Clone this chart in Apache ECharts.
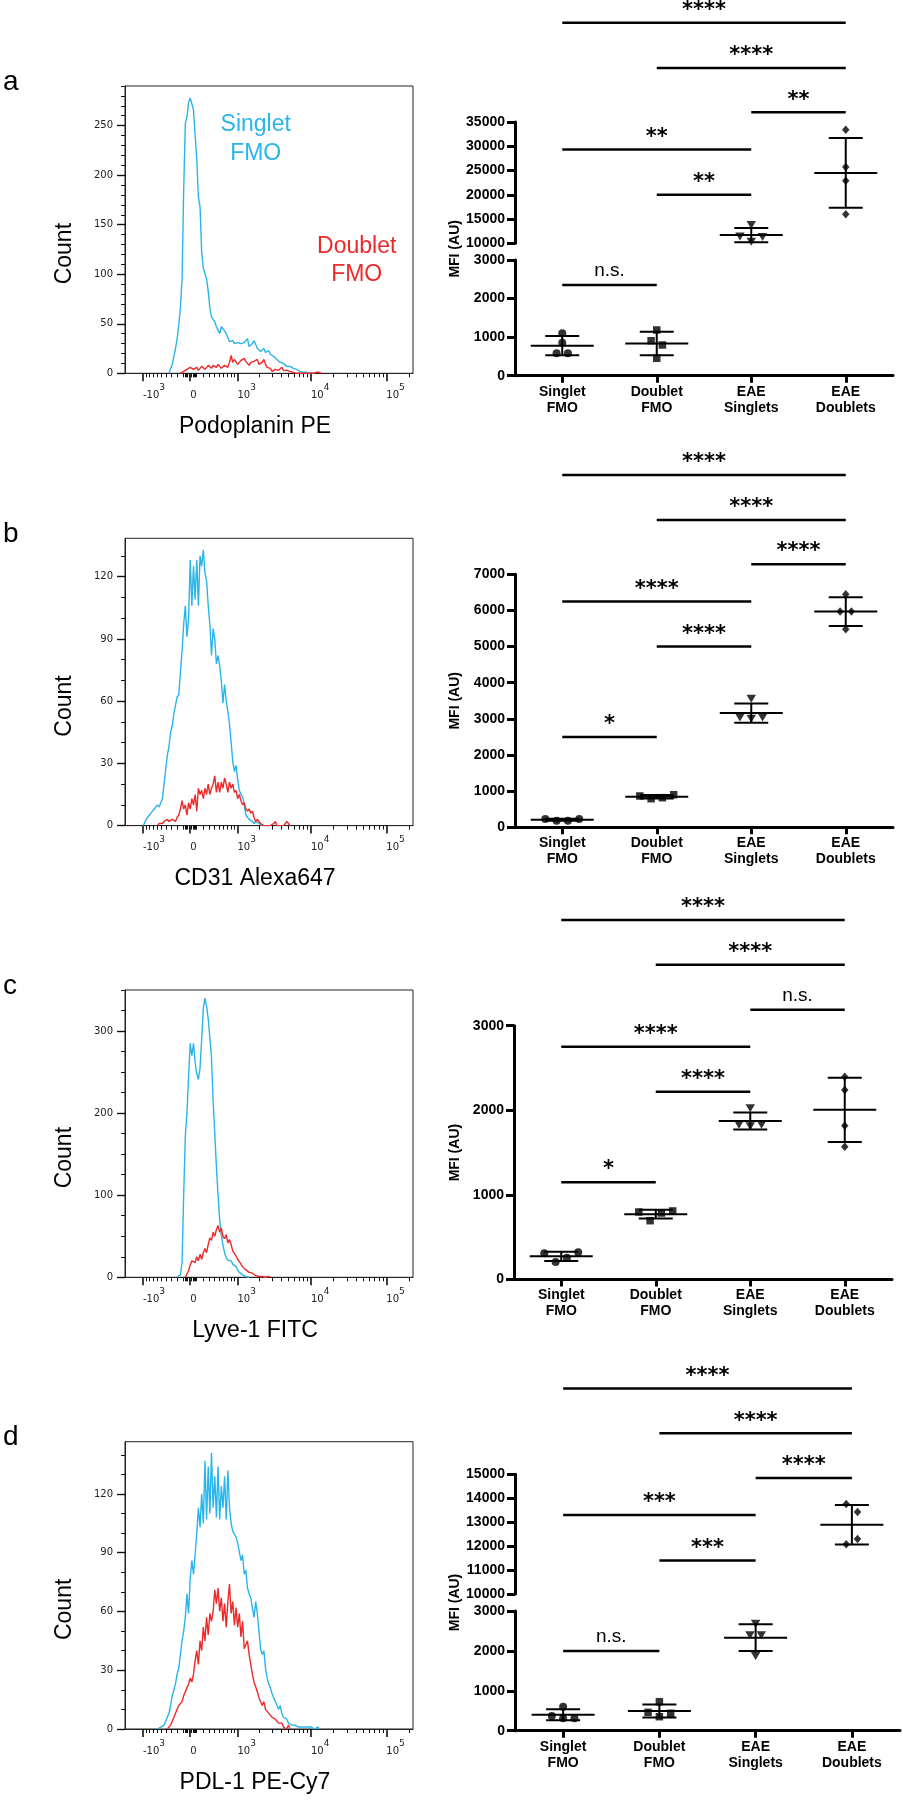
<!DOCTYPE html>
<html><head><meta charset="utf-8">
<script src="https://cdn.jsdelivr.net/npm/echarts@6/dist/echarts.min.js"></script>
<style>html,body{margin:0;padding:0;background:#fff}#main{width:903px;height:1800px}</style>
</head><body><div id="main"></div>
<script>
// ================= DATA =================
const categories = ['Singlet\nFMO', 'Doublet\nFMO', 'EAE\nSinglets', 'EAE\nDoublets'];
const panelLetters = ['a', 'b', 'c', 'd'];
const markerTitles = ['Podoplanin PE', 'CD31 Alexa647', 'Lyve-1 FITC', 'PDL-1 PE-Cy7'];
const histLegend = ['Singlet\nFMO', 'Doublet\nFMO'];

// histogram x axis (biexponential display) tick values and labels
const xMajorVals = [-1000, 0, 1000, 10000, 100000];
const xTickBase = ['-10', '0', '10', '10', '10'];
const xTickExp = ['3', '', '3', '4', '5'];

// histogram counts, one value per display bin (bin width 0.05 display units), first bin index given
const aSingletStart = -13;
const aSingletHist = [0,2,9,17,25,35,49,66,95,185,252,259,273,278,276,266,240,216,178,168,122,106,101,95,83,66,57,58,52,47,46,40,47,47,43,40,36,32,33,33,30,31,31,30,30,30,31,32,35,27,26,30,33,35,25,24,22,23,25,21,23,23,19,21,17,19,14,16,11,13,10,11,7,9,7,7,5,6,4,4,2,3,1,2,1,1,0,1,0];
const aDoubletStart = -6;
const aDoubletHist = [0,1,2,3,4,3,6,5,4,6,6,3,5,7,7,4,6,8,6,5,8,7,6,9,7,5,6,8,8,6,11,18,11,14,12,9,9,13,11,15,12,10,8,11,9,12,11,14,9,10,11,14,9,6,4,5,2,4,4,6,3,4,6,3,2,3,1,2,2,1,1,0,0,0,0,0,0,0,0,0,0,0,1,1,1,1,0];
const bSingletStart = -29;
const bSingletHist = [0,1,3,4,4,6,6,8,8,10,9,11,13,20,27,34,38,45,48,54,58,62,63,74,84,97,106,91,100,128,106,125,109,128,106,130,125,133,122,118,106,97,82,95,90,78,82,77,70,59,68,60,55,49,40,31,26,29,22,17,15,14,10,5,4,3,3,2,1,2,2,1,1,0];
const bDoubletStart = -20;
const bDoubletHist = [0,1,1,1,2,2,3,2,2,3, 3,2,4,5,8,12,8,10,5,11, 8,13,10,15,7,18,15,17,13,18, 15,20,15,18,20,24,16,21,16,21, 18,23,20,16,21,18,20,16,17,13, 15,12,10,11,8,7,8,6,7,4, 2,3,2,1,1,0,0,0,0,0, 0,1,2,0,0,0,0,0,0,2, 1,0];
const cSingletStart = -8;
const cSingletHist = [0,0,3,18,100,172,200,245,285,270,285,262,248,241,255,290,328,340,330,315,292,268,215,175,135,100,70,52,39,30,24,21,21,20,16,15,13,9,6,5,3,2,1,1,0];
const cDoubletStart = -3;
const cDoubletHist = [0,2,8,15,20,22,18,25,20,28,22,30,35,30,40,48,45,55,50,58,63,55,60,50,47,52,42,46,40,32,33,26,22,19,16,13,11,9,8,6,5,5,3,2,3,1,2,1,1,0,0,1,0];
const dSingletStart = -20;
const dSingletHist = [0,1,1,2,2,4,5,8,12,17, 20,23,28,31,38,45,50,57,69,59, 77,86,79,89,100,113,103,120,105,137, 107,134,110,141,113,129,108,134,107,124, 113,129,107,132,113,105,101,100,98,95, 96,86,89,79,81,72,69,67,62,57, 65,59,50,41,38,40,31,26,23,21, 18,16,14,12,10,12,8,6,5,5, 3,4,2,3,2,2,1,2,1,0, 1,0,1,0,1,0,0,0,1,0];
const dDoubletStart = -14;
const dDoubletHist = [0,0,2,4,5,8,9,12,11,14, 17,17,21,23,26,24,28,35,40,33, 45,40,52,45,57,48,59,55,60,71, 64,72,60,67,55,64,52,65,74,59, 65,53,62,52,59,47,55,41,40,45, 38,33,28,24,23,19,16,17,12,14, 10,11,8,9,6,7,5,5,3,2, 3,1,1,0,2,0];

// MFI (AU) per mouse, per group (left-to-right order as plotted)
const aSingletFMO = [1100, 855, 580, 580];
const aDoubletFMO = [1185, 907, 796, 451];
const aEAESinglets = [13750, 11400, 10300, 11300];
const aEAEDoublets = [33400, 25700, 22900, 16000];
const bSingletFMO = [230, 183, 183, 230];
const bDoubletFMO = [866, 791, 819, 902];
const bEAESinglets = [3560, 3040, 3000, 3040];
const bEAEDoublets = [6450, 5970, 5970, 5480];
const cSingletFMO = [310, 206, 256, 322];
const cDoubletFMO = [798, 695, 786, 810];
const cEAESinglets = [2025, 1830, 1810, 1830];
const cEAEDoublets = [2397, 2240, 1818, 1570];
const dSingletFMO = [601, 368, 311, 311];
const dDoubletFMO = [727, 461, 351, 436];
const dEAESinglets = [2680, 2390, 2390, 1870];
const dEAEDoublets = [13760, 13426, 12077, 12298];

// significance brackets
const sigPairs = [[0, 3], [1, 3], [2, 3], [0, 2], [1, 2], [0, 1]];
const aSigLevels = [55450, 46150, 37000, 29350, 20000, 2350];
const bSigLevels = [9750, 8500, 7280, 6250, 5000, 2500];
const cSigLevels = [4250, 3720, 3190, 2750, 2220, 1150];
const dSigLevels = [18580, 16710, 14850, 13300, 11400, 2000];
const aSigLabels = ['****', '****', '**', '**', '**', 'n.s.'];
const bSigLabels = ['****', '****', '****', '****', '****', '*'];
const cSigLabels = ['****', '****', 'n.s.', '****', '****', '*'];
const dSigLabels = ['****', '****', '****', '***', '***', 'n.s.'];

// ================= STYLE / LAYOUT =================
const BLUE = '#29B5EA', RED = '#EC2A2C';
const BIN = 0.05, BIEX_C = 500;
const tr = v => Math.asinh(v / BIEX_C);
const X_LO = tr(-1800), X_HI = tr(226000);
const xMajorT = xMajorVals.map(tr);
const xMinorT = [];
for (let k = 2; k <= 9; k++) xMinorT.push(tr(-k * 100), tr(k * 100), tr(k * 1000), tr(k * 10000));
for (let k = -100; k <= 100; k += 20) if (k !== 0) xMinorT.push(tr(k));
xMinorT.push(tr(200000));

const option = {animation: false, backgroundColor: '#fff', grid: [], xAxis: [], yAxis: [], series: [], graphic: []};
function addGrid(g) {
  option.grid.push(Object.assign({outerBoundsMode: 'none', containLabel: false}, g));
  return option.grid.length - 1;
}
const noSplit = {show: false};

const hists = [
  {top: 86, yMax: 290, major: 50, minor: 10, blue: aSingletHist, bs: aSingletStart, red: aDoubletHist, rs: aDoubletStart},
  {top: 538.3, yMax: 138.5, major: 30, minor: 10, blue: bSingletHist, bs: bSingletStart, red: bDoubletHist, rs: bDoubletStart},
  {top: 990, yMax: 350, major: 100, minor: 25, blue: cSingletHist, bs: cSingletStart, red: cDoubletHist, rs: cDoubletStart},
  {top: 1441.7, yMax: 146.7, major: 30, minor: 10, blue: dSingletHist, bs: dSingletStart, red: dDoubletHist, rs: dDoubletStart}
];
const H_LEFT = 125, H_W = 288, H_H = 287.3;

hists.forEach((h, p) => {
  const gi = addGrid({left: H_LEFT, top: h.top, width: H_W, height: H_H, show: true, borderColor: '#222', borderWidth: 1, backgroundColor: 'transparent'});
  const xi = option.xAxis.length;
  option.xAxis.push({
    type: 'value', gridIndex: gi, position: 'bottom', min: X_LO, max: X_HI,
    axisLine: {show: true, onZero: false, lineStyle: {color: '#222', width: 1}},
    axisTick: {show: true, length: 8, customValues: xMajorT, lineStyle: {color: '#111', width: 1.6}},
    axisLabel: {
      show: true, customValues: xMajorT, margin: 10, align: 'left',
      formatter: (v) => {
        let bi = 0, bd = 1e9;
        xMajorT.forEach((t, i) => { const d = Math.abs(t - v); if (d < bd) { bd = d; bi = i; } });
        return '{b|' + xTickBase[bi] + '}' + (xTickExp[bi] ? '{s|' + xTickExp[bi] + '}' : '');
      },
      rich: {
        b: {fontFamily: 'DejaVu Sans', fontSize: 10, color: '#222', lineHeight: 24},
        s: {fontFamily: 'DejaVu Sans', fontSize: 9, color: '#222', lineHeight: 9, verticalAlign: 'top'}
      }
    },
    splitLine: noSplit
  });
  option.xAxis.push({
    type: 'value', gridIndex: gi, position: 'bottom', min: X_LO, max: X_HI,
    axisLine: {show: false, onZero: false},
    axisTick: {show: true, length: 4, customValues: xMinorT, lineStyle: {color: '#111', width: 1}},
    axisLabel: {show: false}, splitLine: noSplit
  });
  const majors = [], minors = [];
  for (let v = 0; v <= h.yMax + 1e-9; v += h.major) majors.push(v);
  for (let v = 0; v <= h.yMax + 1e-9; v += h.minor) minors.push(v);
  const yi = option.yAxis.length;
  option.yAxis.push({
    type: 'value', gridIndex: gi, position: 'left', min: 0, max: h.yMax,
    axisLine: {show: true, onZero: false, lineStyle: {color: '#222', width: 1}},
    axisTick: {show: true, length: 8, customValues: majors, lineStyle: {color: '#111', width: 1.4}},
    axisLabel: {show: true, customValues: majors, margin: 12, fontFamily: 'DejaVu Sans', fontSize: 10, color: '#222', formatter: v => String(v)},
    splitLine: noSplit
  });
  option.yAxis.push({
    type: 'value', gridIndex: gi, position: 'left', min: 0, max: h.yMax,
    axisLine: {show: false, onZero: false},
    axisTick: {show: true, length: 4, customValues: minors, lineStyle: {color: '#111', width: 1}},
    axisLabel: {show: false}, splitLine: noSplit
  });
  [[h.blue, h.bs, BLUE], [h.red, h.rs, RED]].forEach(([arr, st, col]) => {
    option.series.push({
      type: 'line', xAxisIndex: xi, yAxisIndex: yi, silent: true, symbol: 'none', showSymbol: false,
      data: arr.map((c, i) => [(st + i) * BIN, c]),
      lineStyle: {color: col, width: 1.4}, itemStyle: {color: col}, z: 3
    });
  });
  const bottom = h.top + H_H;
  option.graphic.push(
    {type: 'text', x: 3, y: h.top - 4, style: {text: panelLetters[p], font: '28px "Liberation Sans", Arial', fill: '#000', align: 'left', verticalAlign: 'middle', textAlign: 'left', textVerticalAlign: 'middle'}},
    {type: 'text', x: 64.5, y: h.top + H_H / 2 + 24, rotation: Math.PI / 2, style: {text: 'Count', font: '23px "Liberation Sans", Arial', fill: '#000', align: 'center', verticalAlign: 'middle', textAlign: 'center', textVerticalAlign: 'middle'}},
    {type: 'text', x: 255, y: bottom + 53.5, style: {text: markerTitles[p], font: '23px "Liberation Sans", Arial', fill: '#000', align: 'center', verticalAlign: 'middle', textAlign: 'center', textVerticalAlign: 'middle'}}
  );
});
option.graphic.push(
  {type: 'text', x: 255.7, y: 139.2, style: {text: histLegend[0], font: '23px "Liberation Sans", Arial', lineHeight: 28.3, fill: BLUE, align: 'center', verticalAlign: 'middle', textAlign: 'center', textVerticalAlign: 'middle'}},
  {type: 'text', x: 356.7, y: 260.5, style: {text: histLegend[1], font: '23px "Liberation Sans", Arial', lineHeight: 27.6, fill: RED, align: 'center', verticalAlign: 'middle', textAlign: 'center', textVerticalAlign: 'middle'}}
);

// ================= SCATTER PANELS =================
const panels = [
  {groups: [aSingletFMO, aDoubletFMO, aEAESinglets, aEAEDoublets], sig: aSigLevels, lab: aSigLabels, left: 515, width: 378,
   grids: [{top: 122, height: 121.3, min: 10000, max: 35000, interval: 5000}, {top: 260, height: 115.7, min: 0, max: 3000, interval: 1000}]},
  {groups: [bSingletFMO, bDoubletFMO, bEAESinglets, bEAEDoublets], sig: bSigLevels, lab: bSigLabels, left: 515, width: 378,
   grids: [{top: 574.3, height: 253, min: 0, max: 7000, interval: 1000}]},
  {groups: [cSingletFMO, cDoubletFMO, cEAESinglets, cEAEDoublets], sig: cSigLevels, lab: cSigLabels, left: 514, width: 378,
   grids: [{top: 1025.7, height: 253.8, min: 0, max: 3000, interval: 1000}]},
  {groups: [dSingletFMO, dDoubletFMO, dEAESinglets, dEAEDoublets], sig: dSigLevels, lab: dSigLabels, left: 515, width: 385,
   grids: [{top: 1474.3, height: 119.7, min: 10000, max: 15000, interval: 1000}, {top: 1611, height: 119.7, min: 0, max: 3000, interval: 1000}]}
];
const symbols = [
  {symbol: 'circle', size: 8, rot: 0},
  {symbol: 'rect', size: 7.5, rot: 0},
  {symbol: 'triangle', size: [9.5, 8], rot: 180},
  {symbol: 'diamond', size: [7.5, 8.5], rot: 0}
];
const LBL = {fontFamily: '"Liberation Sans", Arial', fontWeight: 'bold', fontSize: 14, color: '#000'};

function jitter(vals, pxPerUnit, stepCat) {
  const rows = [];
  vals.forEach((v, i) => {
    let row = rows.find(r => Math.abs(r.anchor - v) * pxPerUnit <= 9.2);
    if (!row) { row = {anchor: v, idx: []}; rows.push(row); }
    row.idx.push(i);
  });
  const off = new Array(vals.length).fill(0);
  rows.forEach(r => r.idx.forEach((i, k) => { off[i] = (k - (r.idx.length - 1) / 2) * stepCat; }));
  return off;
}
const mean = a => a.reduce((s, v) => s + v, 0) / a.length;
const sd = a => { const m = mean(a); return Math.sqrt(a.reduce((s, v) => s + (v - m) * (v - m), 0) / (a.length - 1)); };

panels.forEach((P) => {
  const ax = [];
  P.grids.forEach((g, k) => {
    const isBottom = k === P.grids.length - 1;
    const gi = addGrid({left: P.left, top: g.top, width: P.width, height: g.height, show: false});
    const xi = option.xAxis.length, yi = option.yAxis.length;
    option.xAxis.push({
      type: 'value', gridIndex: gi, position: 'bottom', min: -0.5, max: 3.5, show: isBottom,
      axisLine: {show: true, onZero: false, lineStyle: {color: '#000', width: 3}},
      axisTick: {show: true, length: 7, customValues: [0, 1, 2, 3], lineStyle: {color: '#000', width: 3}},
      axisLabel: Object.assign({show: true, customValues: [0, 1, 2, 3], margin: 8, lineHeight: 16, formatter: v => categories[Math.round(v)]}, LBL),
      splitLine: noSplit
    });
    option.yAxis.push({
      type: 'value', gridIndex: gi, position: 'left', min: g.min, max: g.max, interval: g.interval,
      axisLine: {show: true, onZero: false, lineStyle: {color: '#000', width: 3}},
      axisTick: {show: true, length: 8, lineStyle: {color: '#000', width: 3}},
      axisLabel: Object.assign({show: true, margin: 10, formatter: v => String(v)}, LBL),
      splitLine: noSplit
    });
    ax.push({xi, yi, g, ppu: g.height / (g.max - g.min), means: [], sigs: []});
  });
  const gridFor = v => (ax.length === 1 ? 0 : (v > ax[1].g.max ? 0 : 1));
  const stepCat = 11.3 / (P.width / 4);
  P.groups.forEach((vals, c) => {
    const A = ax[gridFor(mean(vals))];
    const off = jitter(vals, A.ppu, stepCat);
    const S = symbols[c];
    option.series.push({
      type: 'scatter', xAxisIndex: A.xi, yAxisIndex: A.yi, silent: true, z: 4,
      symbol: S.symbol, symbolSize: S.size, symbolRotate: S.rot,
      itemStyle: {color: '#000'},
      data: vals.map((v, i) => [c + off[i], v])
    });
    A.means.push([c, mean(vals), sd(vals)]);
  });
  P.sig.forEach((lv, k) => ax[gridFor(lv)].sigs.push([sigPairs[k][0], sigPairs[k][1], lv, k]));
  ax.forEach(A => {
    if (A.means.length) option.series.push({
      type: 'custom', xAxisIndex: A.xi, yAxisIndex: A.yi, clip: false, silent: true, z: 3,
      encode: {x: 0, y: 1}, data: A.means,
      renderItem: (params, api) => {
        const x = api.value(0), m = api.value(1), s = api.value(2);
        const pm = api.coord([x, m]), pt = api.coord([x, m + s]), pb = api.coord([x, m - s]);
        const st = {stroke: '#000', lineWidth: 2};
        return {type: 'group', children: [
          {type: 'line', shape: {x1: pm[0] - 31.5, y1: pm[1], x2: pm[0] + 31.5, y2: pm[1]}, style: st},
          {type: 'line', shape: {x1: pt[0], y1: pt[1], x2: pb[0], y2: pb[1]}, style: st},
          {type: 'line', shape: {x1: pt[0] - 17, y1: pt[1], x2: pt[0] + 17, y2: pt[1]}, style: st},
          {type: 'line', shape: {x1: pb[0] - 17, y1: pb[1], x2: pb[0] + 17, y2: pb[1]}, style: st}
        ]};
      }
    });
    if (A.sigs.length) option.series.push({
      type: 'custom', xAxisIndex: A.xi, yAxisIndex: A.yi, clip: false, silent: true, z: 3,
      encode: {x: [0, 1], y: 2}, data: A.sigs,
      renderItem: (params, api) => {
        const i = api.value(0), j = api.value(1), lv = api.value(2), k = api.value(3);
        const p1 = api.coord([i, lv]), p2 = api.coord([j, lv]);
        const text = P.lab[k];
        const ns = text === 'n.s.';
        return {type: 'group', children: [
          {type: 'line', shape: {x1: p1[0], y1: p1[1], x2: p2[0], y2: p2[1]}, style: {stroke: '#000', lineWidth: 2.5}},
          {type: 'text', x: (p1[0] + p2[0]) / 2, y: p1[1] - (ns ? 14 : 12.2),
           style: {text: text, font: ns ? '19px "Liberation Sans", Arial' : 'bold 21px "DejaVu Sans"', fill: '#000',
                   align: 'center', verticalAlign: 'middle', textAlign: 'center', textVerticalAlign: 'middle'}}
        ]};
      }
    });
  });
  const top = P.grids[0].top, last = P.grids[P.grids.length - 1];
  option.graphic.push({type: 'text', x: 455, y: (top + last.top + last.height) / 2, rotation: Math.PI / 2,
    style: {text: 'MFI (AU)', font: 'bold 14px "Liberation Sans", Arial', fill: '#000', align: 'center', verticalAlign: 'middle', textAlign: 'center', textVerticalAlign: 'middle'}});
});

const chart = echarts.init(document.getElementById('main'), null, {renderer: 'canvas', width: 903, height: 1800});
chart.setOption(option);
</script>
</body></html>
